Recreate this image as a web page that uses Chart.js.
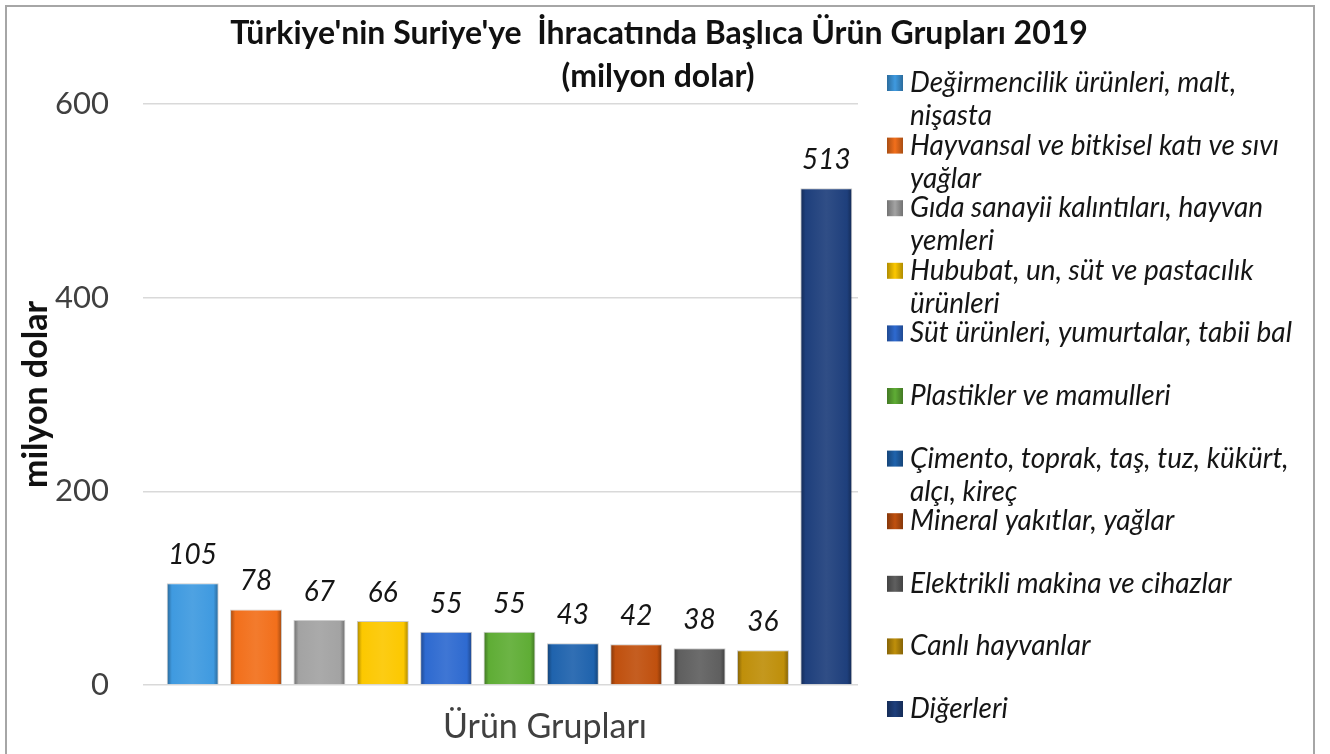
<!DOCTYPE html>
<html lang="tr">
<head>
  <meta charset="UTF-8" />
  <title>Türkiye'nin Suriye'ye İhracatı</title>
  <script src="https://cdn.jsdelivr.net/npm/chart.js"></script>
  <style>
    html, body {
      margin: 0;
      padding: 0;
      background: #fff;
      overflow: hidden;
    }

    .wrap {
      position: relative;
      width: 1330px;
      height: 754px;
    }

    .frame {
      position: absolute;
      left: 5px;
      top: 5px;
      width: 1306px;
      height: 760px;
      border: 2px solid #a6a6a6;
      pointer-events: none;
    }
  </style>
</head>
<body>
  <div class="wrap">
    <canvas id="myChart" width="1330" height="754"></canvas>
    <div class="frame"></div>
  </div>

  <script>
    // Ürün grupları (lejantta iki satıra bölünmüş hali)
    const categories = [
      ['Değirmencilik ürünleri, malt,', 'nişasta'],
      ['Hayvansal ve bitkisel katı ve sıvı', 'yağlar'],
      ['Gıda sanayii kalıntıları, hayvan', 'yemleri'],
      ['Hububat, un, süt ve pastacılık', 'ürünleri'],
      ['Süt ürünleri, yumurtalar, tabii bal'],
      ['Plastikler ve mamulleri'],
      ['Çimento, toprak, taş, tuz, kükürt,', 'alçı, kireç'],
      ['Mineral yakıtlar, yağlar'],
      ['Elektrikli makina ve cihazlar'],
      ['Canlı hayvanlar'],
      ['Diğerleri']
    ];
    const values = [105, 78, 67, 66, 55, 55, 43, 42, 38, 36, 513];
    const colors = ['#3f9ae0', '#f26f1b', '#a3a3a3', '#fcc800', '#2e6ad0', '#5fad35',
                    '#1f63ad', '#c0500e', '#5f5f5f', '#bf8f0a', '#1e3f7c'];
    const yTicks = [0, 200, 400, 600];

    const titleLines = ["Türkiye'nin Suriye'ye  İhracatında Başlıca Ürün Grupları 2019", '(milyon dolar)'];
    const xTitle = 'Ürün Grupları';
    const yTitle = 'milyon dolar';

    const FONT = 'Lato, "Open Sans", sans-serif';

    // rengi beyaza (+) ya da siyaha (-) doğru kaydır
    function shade(hex, amt) {
      const n = parseInt(hex.slice(1), 16);
      const t = amt < 0 ? 0 : 255;
      const p = Math.abs(amt);
      const r = Math.round(((n >> 16) & 255) + (t - ((n >> 16) & 255)) * p);
      const g = Math.round(((n >> 8) & 255) + (t - ((n >> 8) & 255)) * p);
      const b = Math.round((n & 255) + (t - (n & 255)) * p);
      return `rgb(${r},${g},${b})`;
    }

    // çubuklara hafif kabartma görünümü ver
    function barFill(context) {
      const chart = context.chart;
      const base = colors[context.dataIndex];
      const xs = chart.scales && chart.scales.x;
      if (!xs || !chart.chartArea || context.dataIndex === undefined) return base;
      const cx = xs.getPixelForValue(context.dataIndex);
      const half = xs.width / values.length * 0.82 / 2;
      if (!isFinite(cx) || !isFinite(half) || half <= 0) return base;
      const g = chart.ctx.createLinearGradient(cx - half, 0, cx + half, 0);
      g.addColorStop(0, shade(base, -0.35));
      g.addColorStop(0.1, base);
      g.addColorStop(0.5, shade(base, 0.08));
      g.addColorStop(0.9, base);
      g.addColorStop(1, shade(base, -0.35));
      return g;
    }

    // başlık, x ekseni başlığı ve sağdaki lejant
    const decorPlugin = {
      id: 'decor',
      afterDraw(chart) {
        const c = chart.ctx;
        c.save();
        c.textAlign = 'center';
        c.textBaseline = 'middle';
        c.fillStyle = '#111';
        c.font = 'bold 32px ' + FONT;
        c.fillText(titleLines[0], 659, 34);
        c.fillText(titleLines[1], 658, 77);

        c.fillStyle = '#404040';
        c.font = '34px ' + FONT;
        c.fillText(xTitle, 545, 727);

        // lejant
        c.textAlign = 'left';
        c.font = 'italic 28px ' + FONT;
        categories.forEach((lines, i) => {
          const y = 83 + i * 62.6;
          const g = c.createLinearGradient(887, 0, 903, 0);
          g.addColorStop(0, shade(colors[i], -0.3));
          g.addColorStop(0.5, colors[i]);
          g.addColorStop(1, shade(colors[i], -0.3));
          c.fillStyle = g;
          c.fillRect(887, y - 8, 16, 16);
          c.fillStyle = '#151515';
          lines.forEach((t, j) => c.fillText(t, 910, y + j * 33));
        });
        c.restore();
      },
      afterDatasetsDraw(chart) {
        const c = chart.ctx;
        const meta = chart.getDatasetMeta(0);
        c.save();
        c.textAlign = 'center';
        c.textBaseline = 'alphabetic';
        c.fillStyle = '#151515';
        c.font = 'italic 28px ' + FONT;
        meta.data.forEach((bar, i) => {
          c.fillText(String(values[i]), bar.x, bar.y - 19);
        });
        c.restore();
      }
    };

    const ctx = document.getElementById('myChart').getContext('2d');

    new Chart(ctx, {
      type: 'bar',
      data: {
        labels: categories.map(l => l.join(' ')),
        datasets: [{
          data: values,
          backgroundColor: barFill,
          borderColor: 'rgba(0,0,0,0.2)',
          borderWidth: 1,
          barPercentage: 0.82,
          categoryPercentage: 1.0
        }]
      },
      options: {
        responsive: false,
        animation: false,
        layout: {
          padding: { left: 0, right: 472, top: 104, bottom: 61 }
        },
        scales: {
          x: {
            grid: { display: false },
            border: { display: false },
            ticks: { display: false }
          },
          y: {
            min: 0,
            max: 600,
            afterBuildTicks(scale) {
              scale.ticks = yTicks.map(v => ({ value: v }));
            },
            afterFit(scale) {
              scale.width = 161;
            },
            grid: {
              color: '#d9d9d9',
              lineWidth: 1.5,
              drawTicks: true,
              tickLength: 18,
              tickColor: '#d9d9d9'
            },
            border: { display: false },
            ticks: {
              padding: 34,
              color: '#404040',
              font: { family: FONT, size: 31 }
            },
            title: {
              display: true,
              text: yTitle,
              color: '#111',
              padding: { top: 16, bottom: 0 },
              font: { family: FONT, size: 34, weight: 'bold' }
            }
          }
        },
        plugins: {
          legend: { display: false },
          tooltip: { enabled: false }
        }
      },
      plugins: [decorPlugin]
    });
  </script>
</body>
</html>
